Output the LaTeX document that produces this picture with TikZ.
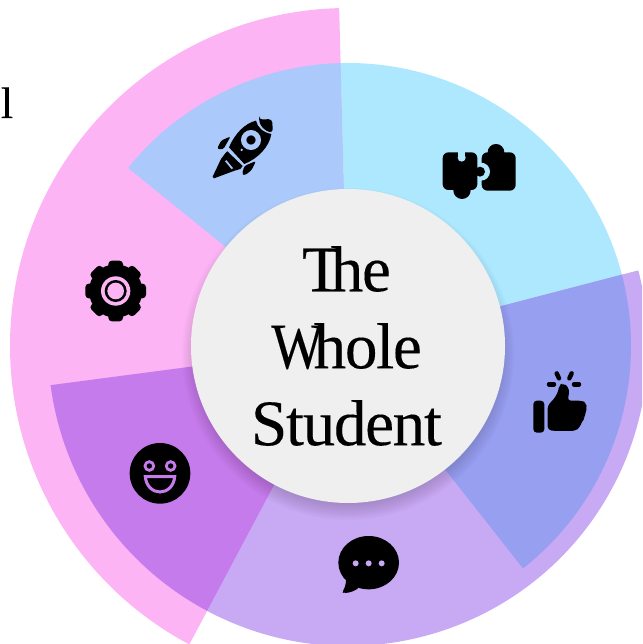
\documentclass[tikz,border=0pt]{standalone}
\usepackage{fontspec}
\setmainfont[LetterSpace=-2,FakeBold=0.2]{Liberation Serif}
\definecolor{pinkband}{HTML}{FCB4F5}
\definecolor{cyanband}{HTML}{ADE8FE}
\definecolor{lavband}{HTML}{C8A9F4}
\definecolor{blueover}{HTML}{ABC9FA}
\definecolor{purpover}{HTML}{C67BEC}
\definecolor{periover}{HTML}{979FF1}
\definecolor{hubgray}{HTML}{EFEFEF}
% one sector round the hub: colour, start, end, radius
\newcommand{\sectorfill}[4]{\fill[#1] (ctr) -- ++(#2:#4) arc[start angle=#2, end angle=#3, radius=#4] -- cycle;}
\tikzset{
 hub/.style={circle, fill=hubgray, minimum size=9.42cm, inner sep=0pt},
 hubtext/.style={align=center, inner sep=0pt, font=\fontsize{55.5}{65.7}\selectfont},
 crop/.style={xscale=1/3, yscale=-1/3},
 spark/.style={line width=3.8pt, line cap=round},
}
\begin{document}
\begin{tikzpicture}[x=.03cm, y=.03cm]
\clip (0,0) rectangle (642,644);
\coordinate (ctr) at (348,298);
\sectorfill{pinkband}{91.5}{242}{338}
\sectorfill{cyanband}{-51.8}{91.5}{283}
\sectorfill{blueover}{91.5}{141}{283}
\sectorfill{lavband}{-118}{14.6}{300}
\sectorfill{periover}{-51.8}{14.6}{283}
\sectorfill{purpover}{-172.5}{-118}{300}
% soft shadow under the hub
\foreach \r in {150,152,...,166} {
 \fill[black, opacity=.02] (348,290) circle (\r);
}
\node[hub] (whole) at (ctr) {};
\node[hubtext] (words) at (346.5,298) {T\kern-.17em he\\\scalebox{.85}[1]{W}\kern-.15em hole\\Student};
\node[font=\fontsize{37.6}{40}\selectfont, anchor=base] (cut) at (7,526) {l};
% rocket
\begin{scope}[shift={(180,554)}, crop]
\fill (228,92) .. controls (195,100) and (165,130) .. (147,172) -- (193,222) .. controls (235,205) and (268,170) .. (274,132) .. controls (250,128) and (232,112) .. (228,92) -- cycle;
\fill[rounded corners=3pt] (237,89) -- (276,87) -- (279,128) .. controls (258,124) and (242,110) .. (237,89) -- cycle;
\draw[blueover, line width=4.5pt, fill=black] (213,150) circle (22);
\fill[blueover] (185,180) circle (4);
\fill (136,190) -- (142,184) -- (188,228) -- (181,237) -- (164,242) -- (102,265) -- (98,260) -- (123,207) -- cycle;
\draw[blueover, line width=1.5pt] (137,212) -- (157,236);
\fill[rounded corners=2pt] (111,177) -- (123,152) -- (152,139) -- (130,178) -- cycle;
\fill[rounded corners=2pt] (186,253) -- (193,228) -- (228,213) -- (215,240) -- (195,256) -- cycle;
\end{scope}
% puzzle
\begin{scope}[shift={(420,524)}, crop]
\fill[rounded corners=5pt] (185,97) rectangle (287,212);
\fill (228,97) circle (25);
\fill[cyanband] (183,155) circle (27);
\fill[rounded corners=5pt] (68,97) rectangle (172,210);
\fill (126,211) circle (26);
\fill (180,155) circle (15);
\fill[cyanband] (125,113) circle (12);
\fill[cyanband] (115,90) rectangle (135,108);
\end{scope}
% thumb
\begin{scope}[shift={(510,294)}, crop]
\fill[rounded corners=3pt] (70,152) rectangle (103,248);
\fill[rounded corners=3pt] (113,240) -- (113,165) -- (130,150) -- (145,125) -- (147,105) -- (160,100) -- (175,110) -- (178,130) -- (172,152) -- (215,152) -- (228,158) -- (231,175) -- (226,187) -- (224,205) -- (215,215) -- (210,232) -- (195,243) -- (135,243) -- cycle;
\draw[spark] (140,70) -- (147,85);
\draw[spark] (185,70) -- (178,85);
\draw[spark] (117,103) -- (132,103);
\draw[spark] (192,103) -- (207,103);
\end{scope}
% bubble
\begin{scope}[shift={(320,124)}, crop]
\fill (146,128) ellipse (91 and 80);
\fill[rounded corners=2pt] (78,175) .. controls (78,190) and (74,205) .. (66,216) -- (72,219) .. controls (90,218) and (105,212) .. (118,202) -- cycle;
\foreach \x in {107,146,185} {
 \fill[lavband] (\x,130) circle (9);
}
\end{scope}
% smiley
\begin{scope}[shift={(110,214)}, crop]
\fill (150,130) circle (91);
\foreach \x in {118,182} {
 \draw[purpover, line width=2.4pt] (\x,108) circle (13);
}
\draw[purpover, line width=2.6pt] (106,140) -- (194,140) .. controls (192,168) and (172,186) .. (150,186) .. controls (128,186) and (108,168) .. (106,140) -- cycle;
\end{scope}
% gear
\begin{scope}[shift={(70,399)}, crop]
\fill (137,138) circle (80);
\foreach \a in {0,45,...,315} {
 \fill[rotate around={\a:(137,138)}, rounded corners=3pt] (115,47) rectangle (159,100);
}
\fill[pinkband] (137,138) circle (44);
\fill (137,138) circle (33);
\fill[pinkband] (137,138) circle (25);
\end{scope}
\end{tikzpicture}
\end{document}
